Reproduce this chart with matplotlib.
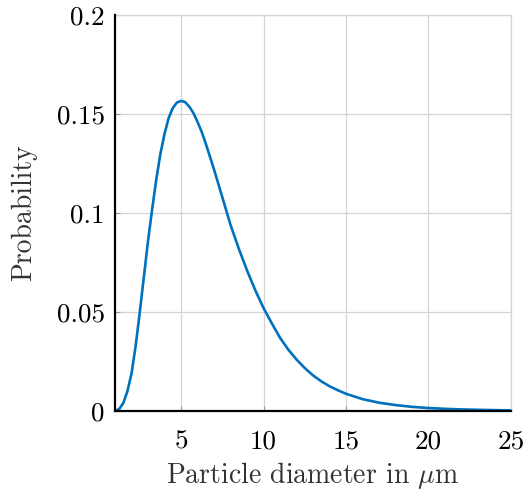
import matplotlib
matplotlib.use('Agg')
import matplotlib.pyplot as plt

# values
diameter = [1, 1.25, 1.5, 1.75, 2, 2.25, 2.5, 2.75, 3, 3.25, 3.5, 3.75, 4, 4.25,
            4.5, 4.75, 5, 5.25, 5.5, 5.75, 6, 6.25, 6.5, 6.75, 7, 7.25, 7.5,
            7.75, 8, 8.5, 9, 9.5, 10, 10.5, 11, 11.5, 12, 12.5, 13, 13.5, 14,
            14.5, 15, 16, 17, 18, 19, 20, 21, 22, 23, 25]
probability = [0, 0.001, 0.004, 0.010, 0.019, 0.033, 0.050, 0.068, 0.086, 0.102,
               0.117, 0.130, 0.140, 0.148, 0.153, 0.1558, 0.1566, 0.1560, 0.1537,
               0.1505, 0.146, 0.141, 0.135, 0.1285, 0.122, 0.115, 0.108, 0.101,
               0.094, 0.082, 0.071, 0.061, 0.052, 0.0443, 0.037, 0.031, 0.026,
               0.0217, 0.018, 0.015, 0.0125, 0.0105, 0.0087, 0.006, 0.0042, 0.003,
               0.0021, 0.0015, 0.0011, 0.0008, 0.0006, 0.0003]

xticks = [5, 10, 15, 20, 25]
yticks = [0, 0.05, 0.1, 0.15, 0.2]
ytick_labels = ['0', '0.05', '0.1', '0.15', '0.2']

plt.rcParams['font.family'] = 'serif'
plt.rcParams['font.serif'] = ['cmr10']
plt.rcParams['mathtext.fontset'] = 'cm'
plt.rcParams['axes.unicode_minus'] = False

fig = plt.figure(figsize=(5.23, 5.0), dpi=100)
ax = fig.add_axes([0.22, 0.178, 0.757, 0.792])

ax.plot(diameter, probability, color='#0072BD', lw=1.9, zorder=3,
        solid_joinstyle='round')

ax.set_xlim(1, 25)
ax.set_ylim(0, 0.2)
ax.set_xticks(xticks)
ax.set_xticklabels([str(t) for t in xticks])
ax.set_yticks(yticks)
ax.set_yticklabels(ytick_labels)

ax.grid(True, color='#d4d4d4', lw=0.9)
ax.set_axisbelow(True)
for side in ['top', 'right']:
    ax.spines[side].set_color('#d4d4d4')
    ax.spines[side].set_linewidth(0.9)
for side in ['left', 'bottom']:
    ax.spines[side].set_color('black')
    ax.spines[side].set_linewidth(1.6)
    ax.spines[side].set_zorder(4)

ax.tick_params(direction='in', length=3.5, width=0.8, color='#999999',
               labelsize=19.5, labelcolor='black')
ax.tick_params(axis='x', pad=13.3)
ax.tick_params(axis='y', pad=7.5)

ax.set_xlabel(r'Particle diameter in $\mu$m', fontsize=20, color='#333333', labelpad=5)
ax.set_ylabel('Probability', fontsize=20, color='#333333', labelpad=14)

fig.savefig('out.png', dpi=100)
